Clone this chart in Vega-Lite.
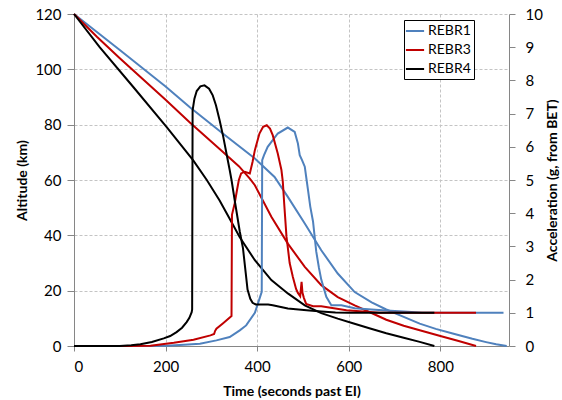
{
 "$schema": "https://vega.github.io/schema/vega-lite/v6.json",
 "width": 435, "height": 332,
 "autosize": {"type": "none"},
 "padding": {"left": 74, "top": 14, "right": 53, "bottom": 54},
 "background": "white",
 "config": {
  "font": "Lato",
  "view": {"stroke": null},
  "axis": {"domainColor": "#868686", "tickColor": "#868686", "labelColor": "#000000", "labelFontSize": 15, "titleFontSize": 14, "titleFontWeight": "bold", "titleColor": "#000000", "gridColor": "#c4c4c4", "gridDash": [3, 2], "gridWidth": 1}
 },
 "datasets": {
  "alt": [
   {"s":"REBR1","t":0,"v":120},{"s":"REBR1","t":100,"v":107},{"s":"REBR1","t":200,"v":93.8},{"s":"REBR1","t":253,"v":86.3},{"s":"REBR1","t":325,"v":76.8},{"s":"REBR1","t":395,"v":67.8},{"s":"REBR1","t":438,"v":61.1},{"s":"REBR1","t":467,"v":53.9},{"s":"REBR1","t":504,"v":44.3},{"s":"REBR1","t":540,"v":34.6},{"s":"REBR1","t":576,"v":26.2},{"s":"REBR1","t":613,"v":19.5},{"s":"REBR1","t":650,"v":15.8},{"s":"REBR1","t":682,"v":13.2},{"s":"REBR1","t":720,"v":10.5},{"s":"REBR1","t":755,"v":8.1},{"s":"REBR1","t":790,"v":6.2},{"s":"REBR1","t":827,"v":4.5},{"s":"REBR1","t":870,"v":2.6},{"s":"REBR1","t":900,"v":1.4},{"s":"REBR1","t":922,"v":0.6},{"s":"REBR1","t":945,"v":0},
   {"s":"REBR3","t":0,"v":120},{"s":"REBR3","t":50,"v":111.8},{"s":"REBR3","t":100,"v":104},{"s":"REBR3","t":150,"v":96.5},{"s":"REBR3","t":200,"v":89},{"s":"REBR3","t":253,"v":80.8},{"s":"REBR3","t":318,"v":71.2},{"s":"REBR3","t":360,"v":65},{"s":"REBR3","t":384,"v":60.5},{"s":"REBR3","t":395,"v":58.1},{"s":"REBR3","t":431,"v":46.7},{"s":"REBR3","t":467,"v":37},{"s":"REBR3","t":504,"v":28.6},{"s":"REBR3","t":540,"v":22},{"s":"REBR3","t":576,"v":17.7},{"s":"REBR3","t":613,"v":14.7},{"s":"REBR3","t":645,"v":12.3},{"s":"REBR3","t":682,"v":9.5},{"s":"REBR3","t":720,"v":7.3},{"s":"REBR3","t":755,"v":5.7},{"s":"REBR3","t":800,"v":3.6},{"s":"REBR3","t":840,"v":1.8},{"s":"REBR3","t":878,"v":0},
   {"s":"REBR4","t":0,"v":120},{"s":"REBR4","t":56,"v":108},{"s":"REBR4","t":129,"v":93.7},{"s":"REBR4","t":202,"v":79.2},{"s":"REBR4","t":260,"v":67.2},{"s":"REBR4","t":290,"v":60},{"s":"REBR4","t":318,"v":52.6},{"s":"REBR4","t":340,"v":46},{"s":"REBR4","t":362,"v":39.3},{"s":"REBR4","t":395,"v":31},{"s":"REBR4","t":431,"v":23.8},{"s":"REBR4","t":467,"v":19},{"s":"REBR4","t":504,"v":14.7},{"s":"REBR4","t":540,"v":11.9},{"s":"REBR4","t":576,"v":9.9},{"s":"REBR4","t":609,"v":8.2},{"s":"REBR4","t":645,"v":6.4},{"s":"REBR4","t":682,"v":4.6},{"s":"REBR4","t":720,"v":3},{"s":"REBR4","t":755,"v":1.5},{"s":"REBR4","t":787,"v":0}
  ],
  "acc": [
   {"s":"REBR1","t":0,"v":0},{"s":"REBR1","t":150,"v":0},{"s":"REBR1","t":202,"v":0.01},{"s":"REBR1","t":240,"v":0.04},{"s":"REBR1","t":275,"v":0.07},{"s":"REBR1","t":311,"v":0.17},{"s":"REBR1","t":340,"v":0.27},{"s":"REBR1","t":362,"v":0.47},{"s":"REBR1","t":376,"v":0.62},{"s":"REBR1","t":395,"v":1},{"s":"REBR1","t":405,"v":1.42},{"s":"REBR1","t":410,"v":1.63},{"s":"REBR1","t":411,"v":5.6},{"s":"REBR1","t":415,"v":5.75},{"s":"REBR1","t":423,"v":6},{"s":"REBR1","t":445,"v":6.4},{"s":"REBR1","t":467,"v":6.58},{"s":"REBR1","t":482,"v":6.45},{"s":"REBR1","t":489,"v":6.1},{"s":"REBR1","t":493,"v":5.75},{"s":"REBR1","t":498,"v":5.6},{"s":"REBR1","t":504,"v":5.4},{"s":"REBR1","t":508,"v":5},{"s":"REBR1","t":511,"v":4.7},{"s":"REBR1","t":516,"v":4.2},{"s":"REBR1","t":522,"v":3.75},{"s":"REBR1","t":529,"v":2.85},{"s":"REBR1","t":535,"v":2.35},{"s":"REBR1","t":540,"v":2},{"s":"REBR1","t":551,"v":1.48},{"s":"REBR1","t":562,"v":1.23},{"s":"REBR1","t":584,"v":1.23},{"s":"REBR1","t":613,"v":1.14},{"s":"REBR1","t":650,"v":1.1},{"s":"REBR1","t":682,"v":1.07},{"s":"REBR1","t":729,"v":1.03},{"s":"REBR1","t":760,"v":1},{"s":"REBR1","t":938,"v":1},
   {"s":"REBR3","t":0,"v":0},{"s":"REBR3","t":120,"v":0},{"s":"REBR3","t":167,"v":0.01},{"s":"REBR3","t":218,"v":0.1},{"s":"REBR3","t":261,"v":0.19},{"s":"REBR3","t":298,"v":0.32},{"s":"REBR3","t":306,"v":0.36},{"s":"REBR3","t":308,"v":0.45},{"s":"REBR3","t":311,"v":0.52},{"s":"REBR3","t":325,"v":0.68},{"s":"REBR3","t":344,"v":0.9},{"s":"REBR3","t":345,"v":3.95},{"s":"REBR3","t":351,"v":4.3},{"s":"REBR3","t":356,"v":4.7},{"s":"REBR3","t":360,"v":5},{"s":"REBR3","t":365,"v":5.2},{"s":"REBR3","t":373,"v":5.25},{"s":"REBR3","t":384,"v":5.2},{"s":"REBR3","t":390,"v":5.55},{"s":"REBR3","t":395,"v":5.9},{"s":"REBR3","t":405,"v":6.4},{"s":"REBR3","t":413,"v":6.6},{"s":"REBR3","t":421,"v":6.65},{"s":"REBR3","t":428,"v":6.55},{"s":"REBR3","t":434,"v":6.35},{"s":"REBR3","t":445,"v":5.8},{"s":"REBR3","t":453,"v":5.3},{"s":"REBR3","t":456,"v":4.95},{"s":"REBR3","t":459,"v":4.3},{"s":"REBR3","t":464,"v":3.3},{"s":"REBR3","t":471,"v":2.5},{"s":"REBR3","t":478,"v":2.08},{"s":"REBR3","t":485,"v":1.72},{"s":"REBR3","t":489,"v":1.6},{"s":"REBR3","t":494,"v":1.5},{"s":"REBR3","t":497,"v":1.93},{"s":"REBR3","t":499,"v":1.6},{"s":"REBR3","t":502,"v":1.45},{"s":"REBR3","t":507,"v":1.27},{"s":"REBR3","t":522,"v":1.2},{"s":"REBR3","t":540,"v":1.2},{"s":"REBR3","t":595,"v":1.08},{"s":"REBR3","t":667,"v":1},{"s":"REBR3","t":878,"v":1},
   {"s":"REBR4","t":0,"v":0},{"s":"REBR4","t":100,"v":0},{"s":"REBR4","t":125,"v":0.02},{"s":"REBR4","t":145,"v":0.05},{"s":"REBR4","t":170,"v":0.12},{"s":"REBR4","t":196,"v":0.23},{"s":"REBR4","t":210,"v":0.3},{"s":"REBR4","t":224,"v":0.42},{"s":"REBR4","t":236,"v":0.55},{"s":"REBR4","t":246,"v":0.72},{"s":"REBR4","t":252,"v":0.85},{"s":"REBR4","t":257,"v":1.02},{"s":"REBR4","t":258,"v":1.1},{"s":"REBR4","t":259,"v":7.1},{"s":"REBR4","t":263,"v":7.45},{"s":"REBR4","t":268,"v":7.68},{"s":"REBR4","t":276,"v":7.82},{"s":"REBR4","t":285,"v":7.85},{"s":"REBR4","t":295,"v":7.75},{"s":"REBR4","t":303,"v":7.55},{"s":"REBR4","t":310,"v":7.25},{"s":"REBR4","t":318,"v":6.8},{"s":"REBR4","t":326,"v":6.3},{"s":"REBR4","t":333,"v":5.8},{"s":"REBR4","t":340,"v":5.3},{"s":"REBR4","t":344,"v":5},{"s":"REBR4","t":352,"v":4.3},{"s":"REBR4","t":362,"v":3.45},{"s":"REBR4","t":369,"v":2.95},{"s":"REBR4","t":375,"v":2.2},{"s":"REBR4","t":379,"v":1.7},{"s":"REBR4","t":385,"v":1.42},{"s":"REBR4","t":390,"v":1.3},{"s":"REBR4","t":397,"v":1.25},{"s":"REBR4","t":424,"v":1.25},{"s":"REBR4","t":434,"v":1.23},{"s":"REBR4","t":467,"v":1.13},{"s":"REBR4","t":508,"v":1.08},{"s":"REBR4","t":540,"v":1.04},{"s":"REBR4","t":571,"v":1.01},{"s":"REBR4","t":600,"v":1},{"s":"REBR4","t":787,"v":1}
  ]
 },
 "layer": [
  {
   "data": {"name": "alt"},
   "mark": {"type": "line", "strokeWidth": 2},
   "encoding": {
    "x": {"field": "t", "type": "quantitative", "scale": {"domain": [0, 950], "nice": false, "zero": false},
          "axis": {"title": "Time (seconds past EI)", "values": [0, 200, 400, 600, 800], "grid": true, "tickSize": 5, "labelPadding": 8, "titleY": 45, "titleBaseline": "middle"}},
    "y": {"field": "v", "type": "quantitative", "scale": {"domain": [0, 120], "nice": false},
          "axis": {"title": "Altitude (km)", "values": [0, 20, 40, 60, 80, 100, 120], "grid": true, "tickSize": 7, "labelPadding": 6, "titleX": -52, "titleY": 166, "titleAngle": 270, "titleBaseline": "middle", "titleAlign": "center"}},
    "color": {"field": "s", "type": "nominal",
              "scale": {"domain": ["REBR1", "REBR3", "REBR4"], "range": ["#4F81BD", "#C00000", "#000000"]},
              "legend": {"orient": "none", "legendX": 330, "legendY": 6, "title": null, "symbolType": "M-1.3,0H1.3", "symbolSize": 196, "symbolStrokeWidth": 2, "labelFontSize": 14, "labelColor": "#000000", "strokeColor": "#000000", "fillColor": "white", "padding": 3, "rowPadding": 4, "labelOffset": 5}}
   }
  },
  {
   "data": {"name": "acc"},
   "mark": {"type": "line", "strokeWidth": 2},
   "encoding": {
    "x": {"field": "t", "type": "quantitative"},
    "y": {"field": "v", "type": "quantitative", "scale": {"domain": [0, 10], "nice": false},
          "axis": {"orient": "right", "title": "Acceleration (g, from BET)", "values": [0, 1, 2, 3, 4, 5, 6, 7, 8, 9, 10], "grid": false, "tickSize": 6, "labelPadding": 10, "titleX": 43, "titleY": 166, "titleAngle": 270, "titleBaseline": "middle", "titleAlign": "center"}},
    "color": {"field": "s", "type": "nominal"}
   }
  }
 ],
 "resolve": {"scale": {"y": "independent"}}
}
